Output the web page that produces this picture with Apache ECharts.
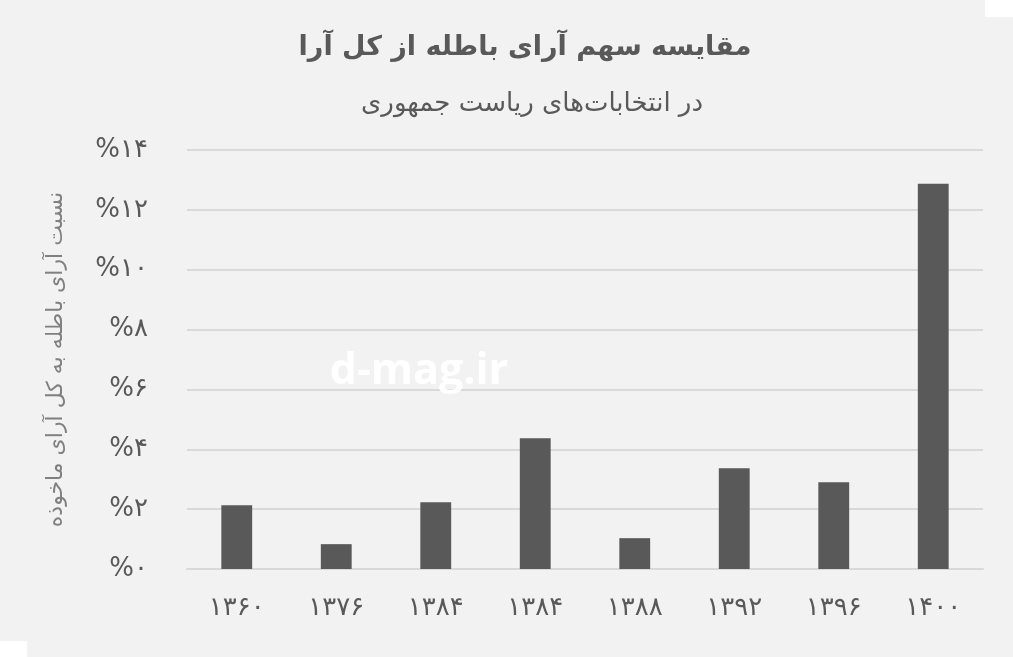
<!DOCTYPE html>
<html><head><meta charset="utf-8">
<script src="https://cdn.jsdelivr.net/npm/echarts@6/dist/echarts.min.js"></script>
<style>html,body{margin:0;padding:0;background:#fff}#c{width:1013px;height:657px}</style>
</head><body><div id="c"></div>
<script>
const categories = ['۱۳۶۰','۱۳۷۶','۱۳۸۴','۱۳۸۴','۱۳۸۸','۱۳۹۲','۱۳۹۶','۱۴۰۰'];
const invalidShare = [2.13, 0.83, 2.23, 4.37, 1.03, 3.37, 2.9, 12.87];
const yTickLabels = ['%۰','%۲','%۴','%۶','%۸','%۱۰','%۱۲','%۱۴'];
const titleText = 'مقایسه سهم آرای باطله از کل آرا';
const subtitleText = 'در انتخابات‌های ریاست جمهوری';
const yAxisName = 'نسبت آرای باطله به کل آرای ماخوذه';
const watermarkText = 'd-mag.ir';

const chart = echarts.init(document.getElementById('c'), null, {renderer: 'canvas'});
const FONT = '"DejaVu Sans", "Noto Sans", sans-serif';
chart.setOption({
  backgroundColor: '#f2f2f2',
  animation: false,
  grid: {left: 187, right: 30, top: 150, bottom: 88, containLabel: false},
  xAxis: {
    type: 'category',
    data: categories,
    axisLine: {lineStyle: {color: '#d9d9d9', width: 2}},
    axisTick: {show: false},
    axisLabel: {color: '#595959', fontSize: 26, fontFamily: FONT, margin: 26}
  },
  yAxis: {
    type: 'value',
    min: 0, max: 14, interval: 2,
    name: yAxisName,
    nameLocation: 'middle',
    nameRotate: 90,
    nameGap: 120,
    nameTextStyle: {color: '#808080', fontSize: 22, fontFamily: FONT},
    axisLine: {show: false},
    axisTick: {show: false},
    splitLine: {lineStyle: {color: '#d9d9d9', width: 2}},
    axisLabel: {
      color: '#595959', fontSize: 26, fontFamily: FONT, margin: 39,
      formatter: v => yTickLabels[Math.round(v / 2)]
    }
  },
  series: [{
    type: 'bar',
    data: invalidShare,
    barWidth: '31%',
    itemStyle: {color: '#595959'}
  }],
  graphic: [
    {type: 'rect', left: 985, top: 0, shape: {width: 28, height: 17}, style: {fill: '#ffffff'}, silent: true},
    {type: 'rect', left: 0, top: 641, shape: {width: 27, height: 16}, style: {fill: '#ffffff'}, silent: true},
    {type: 'text', x: 525, y: 48, style: {text: titleText, fill: '#595959', font: 'bold 27px ' + FONT, textAlign: 'center', textVerticalAlign: 'middle'}},
    {type: 'text', x: 532, y: 104, style: {text: subtitleText, fill: '#595959', font: '26px ' + FONT, textAlign: 'center', textVerticalAlign: 'middle'}},
    {type: 'text', x: 419, y: 372, z: 100, style: {text: watermarkText, fill: 'rgba(255,255,255,0.95)', font: 'bold 43px "Open Sans", sans-serif', textAlign: 'center', textVerticalAlign: 'middle'}}
  ]
});
</script></body></html>
